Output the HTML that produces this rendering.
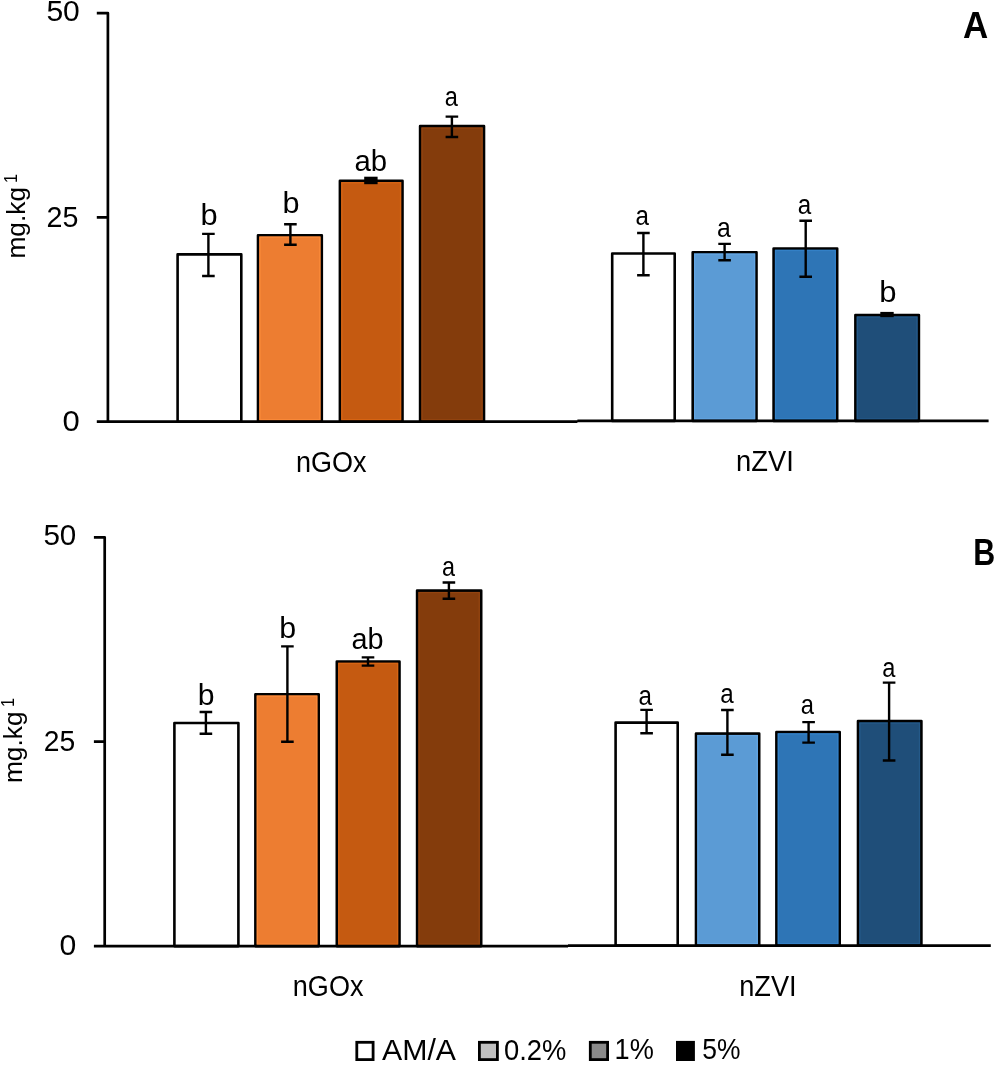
<!DOCTYPE html>
<html><head><meta charset="utf-8"><title>Chart</title>
<style>html,body{margin:0;padding:0;background:#fff;width:994px;height:1065px;overflow:hidden;font-family:"Liberation Sans",sans-serif;}</style>
</head><body>
<svg width="994" height="1065" viewBox="0 0 994 1065" style="display:block;will-change:transform">
<rect width="994" height="1065" fill="#fff"/>
<g font-family="'Liberation Sans', sans-serif" fill="#000">
<rect x="177.60" y="254.40" width="63.70" height="167.30" fill="#FFFFFF" stroke="#000" stroke-width="2.6" stroke-linejoin="round"/>
<rect x="258.00" y="235.20" width="63.80" height="186.50" fill="#ED7D31" stroke="#000" stroke-width="2.6" stroke-linejoin="round"/>
<rect x="259.95" y="237.15" width="59.90" height="182.60" fill="none" stroke="#FA8A3A" stroke-width="1.3"/>
<rect x="339.90" y="180.80" width="62.60" height="240.90" fill="#C55A11" stroke="#000" stroke-width="2.6" stroke-linejoin="round"/>
<rect x="341.85" y="182.75" width="58.70" height="237.00" fill="none" stroke="#D76514" stroke-width="1.3"/>
<rect x="420.10" y="126.10" width="63.90" height="295.60" fill="#843C0C" stroke="#000" stroke-width="2.6" stroke-linejoin="round"/>
<rect x="422.05" y="128.05" width="60.00" height="291.70" fill="none" stroke="#934410" stroke-width="1.3"/>
<rect x="612.20" y="253.50" width="62.50" height="167.40" fill="#FFFFFF" stroke="#000" stroke-width="2.6" stroke-linejoin="round"/>
<rect x="692.70" y="252.20" width="63.80" height="168.70" fill="#5B9BD5" stroke="#000" stroke-width="2.6" stroke-linejoin="round"/>
<rect x="694.65" y="254.15" width="59.90" height="164.80" fill="none" stroke="#63A6E3" stroke-width="1.3"/>
<rect x="773.60" y="248.50" width="63.60" height="172.40" fill="#2E75B6" stroke="#000" stroke-width="2.6" stroke-linejoin="round"/>
<rect x="775.55" y="250.45" width="59.70" height="168.50" fill="none" stroke="#3380C6" stroke-width="1.3"/>
<rect x="855.40" y="315.10" width="63.50" height="105.80" fill="#1F4E79" stroke="#000" stroke-width="2.6" stroke-linejoin="round"/>
<rect x="857.35" y="317.05" width="59.60" height="101.90" fill="none" stroke="#245989" stroke-width="1.3"/>
<path d="M208.40 233.90V276.00M202.10 233.90H214.70M202.10 276.00H214.70" stroke="#000" stroke-width="2.4" fill="none"/>
<path d="M290.40 224.20V244.70M284.10 224.20H296.70M284.10 244.70H296.70" stroke="#000" stroke-width="2.4" fill="none"/>
<rect x="364.20" y="176.70" width="13.40" height="7.50" fill="#000"/>
<path d="M451.90 116.60V137.00M445.60 116.60H458.20M445.60 137.00H458.20" stroke="#000" stroke-width="2.4" fill="none"/>
<path d="M643.40 233.00V275.20M637.10 233.00H649.70M637.10 275.20H649.70" stroke="#000" stroke-width="2.4" fill="none"/>
<path d="M724.60 243.90V260.30M718.30 243.90H730.90M718.30 260.30H730.90" stroke="#000" stroke-width="2.4" fill="none"/>
<path d="M805.70 220.70V276.70M799.40 220.70H812.00M799.40 276.70H812.00" stroke="#000" stroke-width="2.4" fill="none"/>
<rect x="880.30" y="311.90" width="13.40" height="5.30" fill="#000"/>
<text transform="translate(200.50,225.00) scale(1.048,1)" style="font-size:29.4px;">b</text>
<text transform="translate(282.41,212.90) scale(1.040,1)" style="font-size:29.4px;">b</text>
<text x="354.38" y="170.60" style="font-size:29.3px;">ab</text>
<text transform="translate(444.81,105.50) scale(0.831,1)" style="font-size:28.4px;">a</text>
<text transform="translate(635.48,224.50) scale(0.851,1)" style="font-size:28.4px;">a</text>
<text transform="translate(716.96,236.60) scale(0.872,1)" style="font-size:28.4px;">a</text>
<text transform="translate(797.68,213.70) scale(0.851,1)" style="font-size:28.4px;">a</text>
<text transform="translate(879.18,302.00) scale(1.055,1)" style="font-size:29.4px;">b</text>
<path d="M96.80 13.10H107.90V421.70M96.80 217.40H107.90M96.80 421.70H577.40M577.40 420.90H988.60" stroke="#000" stroke-width="2.7" fill="none" stroke-linecap="butt" stroke-linejoin="round"/>
<text transform="translate(46.40,20.80) scale(1.015,1)" style="font-size:29.6px;">50</text>
<text transform="translate(46.57,226.70) scale(0.968,1)" style="font-size:29.6px;">25</text>
<text transform="translate(62.59,431.40) scale(1.048,1)" style="font-size:29.6px;">0</text>
<text transform="translate(295.92,472.30) scale(0.915,1)" style="font-size:29.5px;">nGOx</text>
<text transform="translate(736.10,471.30) scale(0.927,1)" style="font-size:29.5px;">nZVI</text>
<text transform="translate(963.03,37.80) scale(0.954,1)" style="font-size:36.6px;font-weight:bold;">A</text>
<text transform="translate(25.00,258.54) rotate(-90)" style="font-size:26.3px">mg.kg</text>
<text transform="translate(17.10,183.12) rotate(-90) scale(0.891,1)" style="font-size:18.0px">1</text>
<rect x="174.40" y="723.00" width="64.00" height="223.10" fill="#FFFFFF" stroke="#000" stroke-width="2.6" stroke-linejoin="round"/>
<rect x="255.40" y="694.20" width="63.30" height="251.90" fill="#ED7D31" stroke="#000" stroke-width="2.6" stroke-linejoin="round"/>
<rect x="257.35" y="696.15" width="59.40" height="248.00" fill="none" stroke="#FA8A3A" stroke-width="1.3"/>
<rect x="336.80" y="661.50" width="62.70" height="284.60" fill="#C55A11" stroke="#000" stroke-width="2.6" stroke-linejoin="round"/>
<rect x="338.75" y="663.45" width="58.80" height="280.70" fill="none" stroke="#D76514" stroke-width="1.3"/>
<rect x="417.10" y="590.60" width="64.10" height="355.50" fill="#843C0C" stroke="#000" stroke-width="2.6" stroke-linejoin="round"/>
<rect x="419.05" y="592.55" width="60.20" height="351.60" fill="none" stroke="#934410" stroke-width="1.3"/>
<rect x="615.60" y="722.60" width="62.10" height="223.00" fill="#FFFFFF" stroke="#000" stroke-width="2.6" stroke-linejoin="round"/>
<rect x="696.00" y="733.60" width="63.20" height="212.00" fill="#5B9BD5" stroke="#000" stroke-width="2.6" stroke-linejoin="round"/>
<rect x="697.95" y="735.55" width="59.30" height="208.10" fill="none" stroke="#63A6E3" stroke-width="1.3"/>
<rect x="776.40" y="732.00" width="63.30" height="213.60" fill="#2E75B6" stroke="#000" stroke-width="2.6" stroke-linejoin="round"/>
<rect x="778.35" y="733.95" width="59.40" height="209.70" fill="none" stroke="#3380C6" stroke-width="1.3"/>
<rect x="858.00" y="721.10" width="63.40" height="224.50" fill="#1F4E79" stroke="#000" stroke-width="2.6" stroke-linejoin="round"/>
<rect x="859.95" y="723.05" width="59.50" height="220.60" fill="none" stroke="#245989" stroke-width="1.3"/>
<path d="M205.90 712.00V733.70M199.60 712.00H212.20M199.60 733.70H212.20" stroke="#000" stroke-width="2.4" fill="none"/>
<path d="M287.40 646.40V741.70M281.10 646.40H293.70M281.10 741.70H293.70" stroke="#000" stroke-width="2.4" fill="none"/>
<path d="M368.00 657.40V665.60M361.70 657.40H374.30M361.70 665.60H374.30" stroke="#000" stroke-width="2.4" fill="none"/>
<path d="M448.90 582.50V598.80M442.60 582.50H455.20M442.60 598.80H455.20" stroke="#000" stroke-width="2.4" fill="none"/>
<path d="M646.60 709.90V733.20M640.30 709.90H652.90M640.30 733.20H652.90" stroke="#000" stroke-width="2.4" fill="none"/>
<path d="M727.40 710.00V754.80M721.10 710.00H733.70M721.10 754.80H733.70" stroke="#000" stroke-width="2.4" fill="none"/>
<path d="M808.60 722.10V742.60M802.30 722.10H814.90M802.30 742.60H814.90" stroke="#000" stroke-width="2.4" fill="none"/>
<path d="M889.10 682.60V760.50M882.80 682.60H895.40M882.80 760.50H895.40" stroke="#000" stroke-width="2.4" fill="none"/>
<text transform="translate(197.64,705.20) scale(1.025,1)" style="font-size:29.4px;">b</text>
<text transform="translate(279.23,638.00) scale(1.033,1)" style="font-size:29.4px;">b</text>
<text transform="translate(351.39,648.90) scale(0.984,1)" style="font-size:29.3px;">ab</text>
<text transform="translate(442.02,575.50) scale(0.824,1)" style="font-size:28.4px;">a</text>
<text transform="translate(638.38,704.50) scale(0.851,1)" style="font-size:28.4px;">a</text>
<text transform="translate(720.28,702.70) scale(0.851,1)" style="font-size:28.4px;">a</text>
<text transform="translate(800.70,713.70) scale(0.837,1)" style="font-size:28.4px;">a</text>
<text transform="translate(882.21,676.80) scale(0.831,1)" style="font-size:28.4px;">a</text>
<path d="M93.90 537.30H104.70V946.10M93.90 741.70H104.70M93.90 946.10H568.00M568.00 945.60H990.80" stroke="#000" stroke-width="2.7" fill="none" stroke-linecap="butt" stroke-linejoin="round"/>
<text x="43.41" y="545.40" style="font-size:29.6px;">50</text>
<text transform="translate(43.69,751.40) scale(0.955,1)" style="font-size:29.6px;">25</text>
<text transform="translate(59.52,955.40) scale(1.020,1)" style="font-size:29.6px;">0</text>
<text transform="translate(292.81,996.20) scale(0.918,1)" style="font-size:29.5px;">nGOx</text>
<text transform="translate(739.21,996.30) scale(0.922,1)" style="font-size:29.5px;">nZVI</text>
<text transform="translate(973.26,565.10) scale(0.830,1)" style="font-size:36.6px;font-weight:bold;">B</text>
<text transform="translate(21.70,783.04) rotate(-90)" style="font-size:26.3px">mg.kg</text>
<text transform="translate(14.00,707.12) rotate(-90) scale(0.891,1)" style="font-size:18.0px">1</text>
<rect x="356.80" y="1042.30" width="16.30" height="17.30" fill="#FFFFFF" stroke="#000" stroke-width="2.8"/>
<rect x="479.40" y="1042.30" width="18.00" height="17.30" fill="#C0C0C0" stroke="#000" stroke-width="2.8"/>
<rect x="590.30" y="1042.30" width="17.30" height="17.30" fill="#8A8A8A" stroke="#000" stroke-width="2.8"/>
<rect x="677.40" y="1042.30" width="16.10" height="17.30" fill="#000000" stroke="#000" stroke-width="2.8"/>
<text transform="translate(382.04,1059.70) scale(1.030,1)" style="font-size:29.4px;">AM/A</text>
<text transform="translate(503.93,1059.50) scale(0.931,1)" style="font-size:29.4px;">0.2%</text>
<text transform="translate(614.54,1059.40) scale(0.924,1)" style="font-size:29.4px;">1%</text>
<text transform="translate(702.34,1059.40) scale(0.899,1)" style="font-size:29.4px;">5%</text>
</g>
</svg>
</body></html>
